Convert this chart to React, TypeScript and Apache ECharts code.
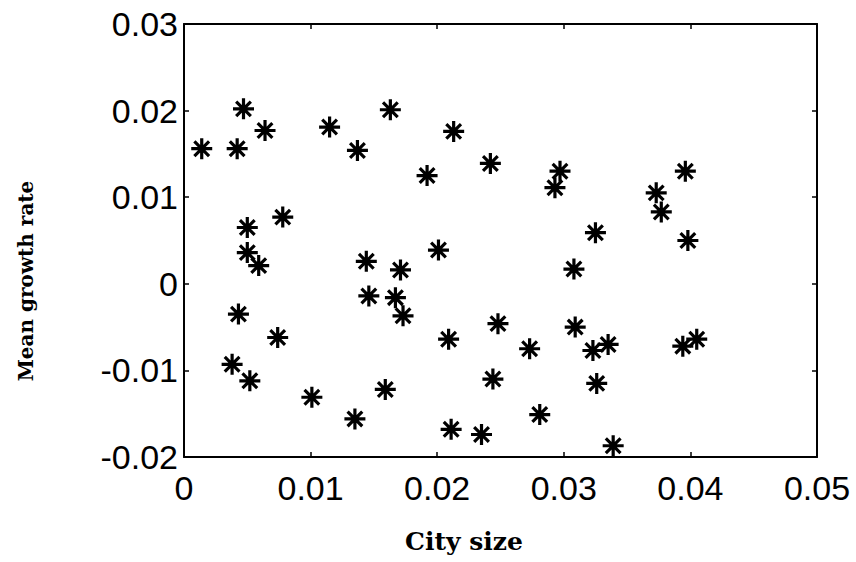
import React, { useEffect, useRef } from "react";
import * as echarts from "echarts";

const citySize = [
  0.0014, 0.0042, 0.0047, 0.0064, 0.0115, 0.0137, 0.0163, 0.0192, 0.0213, 0.0242,
  0.0050, 0.0078, 0.0201, 0.0297, 0.0293, 0.0396, 0.0373, 0.0377, 0.0325, 0.0398,
  0.0050, 0.0059, 0.0144, 0.0171, 0.0146, 0.0167, 0.0173, 0.0043, 0.0074, 0.0038,
  0.0052, 0.0101, 0.0135, 0.0159, 0.0209, 0.0211, 0.0235, 0.0248, 0.0244, 0.0308,
  0.0273, 0.0309, 0.0323, 0.0335, 0.0394, 0.0405, 0.0326, 0.0281, 0.0339,
];
const growthRate = [
  0.0156, 0.0156, 0.0202, 0.0177, 0.0181, 0.0154, 0.0201, 0.0125, 0.0176, 0.0139,
  0.0065, 0.0077, 0.0039, 0.0130, 0.0111, 0.0130, 0.0105, 0.0083, 0.0059, 0.0050,
  0.0036, 0.0021, 0.0026, 0.0016, -0.0014, -0.0016, -0.0037, -0.0035, -0.0062, -0.0093,
  -0.0112, -0.0131, -0.0156, -0.0122, -0.0064, -0.0168, -0.0174, -0.0046, -0.0110, 0.0017,
  -0.0075, -0.0050, -0.0077, -0.0070, -0.0072, -0.0064, -0.0115, -0.0151, -0.0187,
];
const xTitle = "City size";
const yTitle = "Mean growth rate";

const fmt = (v: number) => String(+v.toFixed(2));

export default function App() {
  const ref = useRef<HTMLDivElement>(null);
  useEffect(() => {
    document.body.style.margin = "0";
    if (!ref.current) return;
    const chart = echarts.init(ref.current, null, { renderer: "svg" });
    const data = citySize.map((x, i) => [x, growthRate[i]]);
    const star = "path://M0,10L20,10M10,0L10,20M3,3L17,17M17,3L3,17";
    const axisLine = { show: true, onZero: false, lineStyle: { color: "#000", width: 2 } };
    const tick = { show: true, inside: true, length: 5, lineStyle: { color: "#000", width: 1.5 } };
    const label = { color: "#000", fontFamily: "Liberation Sans", fontSize: 34 };
    chart.setOption({
      animation: false,
      backgroundColor: "#fff",
      grid: { left: 184, right: 39, top: 24, bottom: 105 },
      xAxis: [
        {
          type: "value", min: 0, max: 0.05, interval: 0.01, position: "bottom",
          axisLine, axisTick: tick, splitLine: { show: false },
          axisLabel: { ...label, margin: 14, formatter: fmt },
        },
        {
          type: "value", min: 0, max: 0.05, interval: 0.01, position: "top",
          axisLine, axisTick: tick, splitLine: { show: false }, axisLabel: { show: false },
        },
      ],
      yAxis: [
        {
          type: "value", min: -0.02, max: 0.03, interval: 0.01, position: "left",
          axisLine, axisTick: tick, splitLine: { show: false },
          axisLabel: { ...label, margin: 6, formatter: fmt },
        },
        {
          type: "value", min: -0.02, max: 0.03, interval: 0.01, position: "right",
          axisLine, axisTick: tick, splitLine: { show: false }, axisLabel: { show: false },
        },
      ],
      graphic: [
        {
          type: "text", x: 464, y: 541,
          style: {
            text: xTitle, fill: "#000", font: "bold 25px 'DejaVu Serif'",
            textAlign: "center", textVerticalAlign: "middle",
          },
        },
        {
          type: "text", x: 26, y: 281, rotation: Math.PI / 2,
          style: {
            text: yTitle, fill: "#000", font: "bold 20px 'DejaVu Serif'",
            textAlign: "center", textVerticalAlign: "middle",
          },
        },
      ],
      series: [
        {
          type: "scatter", xAxisIndex: 0, yAxisIndex: 0, data,
          symbol: star, symbolSize: 21,
          itemStyle: { color: "#000", borderColor: "#000", borderWidth: 3.2, opacity: 1 },
        },
      ],
    });
    return () => chart.dispose();
  }, []);
  return <div ref={ref} style={{ width: 856, height: 562 }} />;
}
